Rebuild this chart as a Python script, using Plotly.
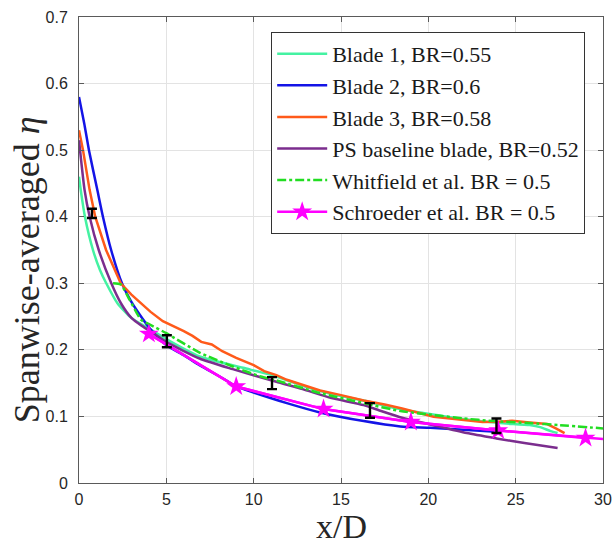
import plotly.graph_objects as go

# ---------------- data ----------------
b1_x = [0, 0.1, 0.34, 0.8, 1.2, 1.56, 2.2, 3.0, 4.0, 5.2, 6.9, 9.4, 11.3, 12.8, 14.4, 16.3, 18.2, 20.0, 22.0, 24.1, 25.8, 26.4, 27.0, 27.4]
b1_y = [0.46, 0.44, 0.40, 0.35, 0.32, 0.30, 0.27, 0.248, 0.232, 0.213, 0.19, 0.173, 0.16, 0.146, 0.134, 0.124, 0.112, 0.104, 0.096, 0.09, 0.087, 0.084, 0.078, 0.075]

b2_x = [0, 0.3, 0.57, 1.05, 1.37, 1.84, 2.46, 3.0, 3.5, 4.06, 5.0, 6.0, 6.9, 8.25, 9.0, 10, 11.9, 13.8, 16.3, 18.4, 20.1, 22, 23.9]
b2_y = [0.58, 0.54, 0.50, 0.44, 0.40, 0.35, 0.30, 0.272, 0.252, 0.232, 0.207, 0.192, 0.177, 0.157, 0.145, 0.136, 0.12, 0.106, 0.093, 0.085, 0.083, 0.080, 0.077]

b3_x = [0, 0.23, 0.61, 0.93, 1.55, 2.39, 3.0, 3.6, 4.1, 4.8, 5.4, 6.0, 6.5, 7.0, 7.6, 8.2, 9.0, 10, 10.6, 11.3, 11.9, 12.8, 13.8, 15, 16.3, 17.5, 18.5, 20.3, 21.5, 23.1, 24.0, 24.8, 25.8, 26.8, 27.3, 27.8]
b3_y = [0.53, 0.50, 0.44, 0.40, 0.35, 0.30, 0.283, 0.268, 0.257, 0.243, 0.236, 0.228, 0.221, 0.212, 0.208, 0.198, 0.188, 0.177, 0.168, 0.162, 0.155, 0.147, 0.139, 0.132, 0.124, 0.118, 0.112, 0.0996, 0.096, 0.0915, 0.092, 0.0935, 0.091, 0.0886, 0.082, 0.075]

ps_x = [0, 0.32, 0.61, 1.13, 1.85, 2.4, 3.0, 3.6, 4.2, 5.0, 6.9, 8.8, 11.3, 12.8, 14.4, 16.3, 17.2, 18.5, 20.1, 22.2, 23.9, 25.5, 27.4]
ps_y = [0.515, 0.44, 0.40, 0.35, 0.30, 0.27, 0.248, 0.236, 0.226, 0.212, 0.187, 0.171, 0.152, 0.141, 0.128, 0.117, 0.109, 0.098, 0.088, 0.075, 0.067, 0.06, 0.0525]

wf_x = [1.95, 2.4, 2.9, 3.56, 4.06, 5.0, 6.9, 8.8, 10.4, 11.3, 13.8, 16.3, 18.4, 20, 22, 23.7, 25.8, 27.5, 30]
wf_y = [0.30, 0.298, 0.275, 0.245, 0.238, 0.225, 0.196, 0.175, 0.16, 0.154, 0.135, 0.12, 0.108, 0.103, 0.097, 0.093, 0.09, 0.087, 0.082]

sch_x = [4, 9, 14, 19, 24, 29]
sch_y = [0.224, 0.145, 0.111, 0.0916, 0.079, 0.0675]
sch_line_x = [4, 9, 14, 19, 24, 29, 30]
sch_line_y = [0.224, 0.145, 0.111, 0.0916, 0.079, 0.0675, 0.066]

err_x = [0.74, 5.03, 11.05, 16.66, 23.9]
err_y = [0.405, 0.213, 0.150, 0.109, 0.086]
err_e = [0.007, 0.009, 0.009, 0.011, 0.011]

x_ticks = [0, 5, 10, 15, 20, 25, 30]
y_ticks = [0, 0.1, 0.2, 0.3, 0.4, 0.5, 0.6, 0.7]
y_tick_labels = ["0", "0.1", "0.2", "0.3", "0.4", "0.5", "0.6", "0.7"]

x_title = "x/D"
y_title = "Spanwise-averaged <i>η</i>"

# ---------------- figure ----------------
LW = 2.5
SERIF = "Liberation Serif"
fig = go.Figure()
fig.add_trace(go.Scatter(x=b1_x, y=b1_y, mode="lines", name="Blade 1, BR=0.55",
                         line=dict(color="#44F2A2", width=LW, shape="spline", smoothing=0.6)))
fig.add_trace(go.Scatter(x=b2_x, y=b2_y, mode="lines", name="Blade 2, BR=0.6",
                         line=dict(color="#1414E6", width=LW, shape="spline", smoothing=0.6)))
fig.add_trace(go.Scatter(x=b3_x, y=b3_y, mode="lines", name="Blade 3, BR=0.58",
                         line=dict(color="#FF5A1A", width=LW)))
fig.add_trace(go.Scatter(x=ps_x, y=ps_y, mode="lines", name="PS baseline blade, BR=0.52",
                         line=dict(color="#7B2D8E", width=LW, shape="spline", smoothing=0.6)))
fig.add_trace(go.Scatter(x=wf_x, y=wf_y, mode="lines", name="Whitfield et al. BR = 0.5",
                         line=dict(color="#22DD22", width=LW, dash="dashdot", shape="spline", smoothing=0.6)))
fig.add_trace(go.Scatter(x=sch_line_x, y=sch_line_y, mode="lines", showlegend=False,
                         line=dict(color="#FF00FF", width=LW)))
fig.add_trace(go.Scatter(x=sch_x, y=sch_y, mode="lines+markers", name="Schroeder et al. BR = 0.5",
                         line=dict(color="#FF00FF", width=LW),
                         marker=dict(symbol="star", size=15, color="#FF00FF", line=dict(width=0))))
fig.add_trace(go.Scatter(x=err_x, y=err_y, mode="markers", showlegend=False,
                         marker=dict(size=1, color="rgba(0,0,0,0)"),
                         error_y=dict(type="data", array=err_e, color="black", thickness=2.4, width=5)))

tick_font = dict(family="Liberation Sans", size=16, color="#262626")
axis_common = dict(showline=True, linecolor="#5a5a5a", linewidth=1, mirror="ticks",
                   ticks="inside", ticklen=5, tickcolor="#5a5a5a",
                   showgrid=True, gridcolor="#e3e3e3", gridwidth=1,
                   zeroline=False, tickfont=tick_font, automargin=False)

fig.update_layout(
    width=615, height=544,
    margin=dict(l=79, r=12, t=17, b=61),
    paper_bgcolor="white", plot_bgcolor="white",
    font=dict(family=SERIF, size=22, color="#1a1a1a"),
    showlegend=True,
    legend=dict(x=0.966, y=0.968, xanchor="right", yanchor="top",
                bgcolor="white", bordercolor="#333333", borderwidth=1,
                font=dict(family=SERIF, size=22, color="#1a1a1a"),
                tracegroupgap=0, itemwidth=50),
    xaxis=dict(range=[0, 30], tickvals=x_ticks, ticktext=[str(v) for v in x_ticks],
               ticklabelstandoff=2, **axis_common),
    yaxis=dict(range=[0, 0.7], tickvals=y_ticks, ticktext=y_tick_labels,
               ticklabelstandoff=7, **axis_common),
    annotations=[
        dict(text=x_title, xref="paper", yref="paper", x=0.5, y=-0.094,
             xanchor="center", yanchor="middle", showarrow=False,
             font=dict(family=SERIF, size=34, color="#262626")),
        dict(text=y_title, xref="paper", yref="paper", x=-0.099, y=0.457,
             xanchor="center", yanchor="middle", textangle=-90, showarrow=False,
             font=dict(family=SERIF, size=36, color="#262626")),
    ],
)

fig.write_html("out.html")
